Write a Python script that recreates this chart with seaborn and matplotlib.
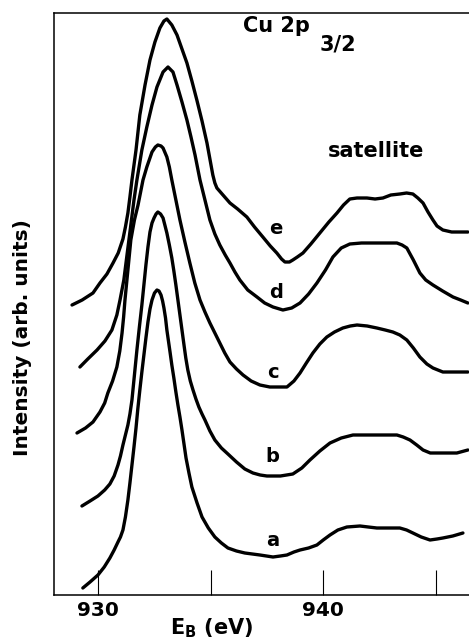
import seaborn as sns
import pandas as pd
import numpy as np
import matplotlib.pyplot as plt

# binding energy (eV) and intensity (arb. units)
energy_e = [928.85, 929.30, 929.78, 930.09, 930.40, 930.67, 930.90, 931.11, 931.22, 931.33,
            931.42, 931.51, 931.69, 931.86, 932.09, 932.31, 932.53, 932.75, 932.93, 933.06,
            933.28, 933.51, 933.73, 933.95, 934.17, 934.39, 934.62, 934.84, 934.97, 935.10,
            935.19, 935.28, 935.55, 935.86, 936.20, 936.61, 936.95, 937.32, 937.65, 937.94,
            938.15, 938.30, 938.50, 938.65, 938.85, 939.10, 939.45, 939.85, 940.25, 940.61,
            940.90, 941.18, 941.50, 941.94, 942.30, 942.65, 943.00, 943.40, 943.70, 943.98,
            944.20, 944.43, 944.65, 944.87, 945.05, 945.31, 945.70, 946.42]
inten_e = [290, 295, 302, 312, 321, 332, 342, 356, 368, 382,
           398, 415, 445, 480, 510, 535, 553, 567, 574, 576,
           570, 560, 546, 532, 514, 495, 474, 452, 436, 420,
           412, 407, 400, 392, 386, 378, 368, 358, 349, 342,
           336, 333, 333, 335, 338, 342, 351, 362, 373, 382,
           390, 396, 397, 397, 396, 397, 400, 401, 402, 401,
           397, 392, 383, 375, 369, 365, 363, 363]

energy_d = [929.20, 929.55, 929.96, 930.31, 930.62, 930.84, 930.98, 931.15, 931.29, 931.46,
            931.60, 931.73, 931.95, 932.17, 932.40, 932.62, 932.89, 933.11, 933.33, 933.51,
            933.73, 933.95, 934.13, 934.31, 934.53, 934.75, 934.97, 935.19, 935.41, 935.65,
            935.86, 936.08, 936.30, 936.65, 937.06, 937.40, 937.77, 938.21, 938.60, 938.97,
            939.35, 939.72, 940.10, 940.43, 940.80, 941.18, 941.70, 942.21, 942.75, 943.27,
            943.50, 943.71, 944.00, 944.29, 944.55, 944.87, 945.30, 945.76, 946.10, 946.42]
inten_d = [228, 236, 245, 254, 265, 280, 295, 315, 340, 370,
           395, 415, 445, 468, 490, 508, 523, 528, 523, 510,
           493, 475, 458, 440, 415, 395, 375, 361, 350, 340,
           332, 323, 315, 305, 298, 292, 288, 285, 287, 292,
           301, 312, 325, 338, 347, 351, 352, 352, 352, 352,
           350, 347, 335, 322, 315, 310, 304, 298, 295, 292]

energy_c = [929.07, 929.45, 929.78, 930.09, 930.30, 930.44, 930.65, 930.84, 930.97, 931.07,
            931.14, 931.20, 931.33, 931.46, 931.62, 931.78, 932.00, 932.17, 932.40, 932.55,
            932.66, 932.80, 932.89, 933.06, 933.17, 933.28, 933.46, 933.64, 933.86, 934.08,
            934.30, 934.53, 934.75, 934.97, 935.19, 935.41, 935.63, 935.86, 936.15, 936.44,
            936.80, 937.19, 937.63, 938.00, 938.39, 938.70, 938.97, 939.25, 939.54, 939.85,
            940.16, 940.50, 940.87, 941.20, 941.50, 941.95, 942.38, 942.75, 943.09, 943.40,
            943.71, 944.00, 944.29, 944.60, 944.87, 945.31, 945.80, 946.42]
inten_c = [162, 167, 173, 183, 192, 202, 214, 228, 244, 262,
           278, 295, 325, 355, 375, 390, 415, 428, 443, 448,
           450, 449, 447, 438, 428, 415, 395, 375, 353, 332,
           312, 295, 283, 272, 262, 252, 242, 233, 226, 220,
           214, 210, 208, 208, 208, 214, 222, 232, 242, 251,
           258, 263, 267, 269, 270, 269, 267, 265, 263, 260,
           255, 247, 238, 231, 227, 223, 223, 223]

energy_b = [929.29, 929.65, 930.00, 930.30, 930.53, 930.72, 930.89, 931.00, 931.11, 931.22,
            931.33, 931.42, 931.51, 931.62, 931.73, 931.84, 931.95, 932.04, 932.13, 932.22,
            932.31, 932.40, 932.49, 932.58, 932.66, 932.78, 932.89, 932.97, 933.06, 933.17,
            933.28, 933.37, 933.46, 933.55, 933.64, 933.73, 933.82, 933.90, 933.99, 934.10,
            934.22, 934.35, 934.48, 934.62, 934.75, 934.97, 935.19, 935.48, 935.77, 936.15,
            936.52, 936.88, 937.20, 937.50, 938.10, 938.65, 939.05, 939.41, 939.85, 940.30,
            940.80, 941.32, 942.21, 943.27, 943.55, 943.85, 944.15, 944.43, 944.75, 945.05,
            945.93, 946.42]
inten_b = [89, 94, 99, 105, 111, 119, 130, 139, 150, 160,
           170, 181, 195, 220, 245, 268, 290, 310, 330, 348,
           363, 372, 377, 381, 383, 381, 377, 370, 362, 350,
           337, 324, 310, 295, 280, 265, 250, 237, 225, 214,
           205, 196, 188, 181, 175, 164, 155, 147, 141, 133,
           126, 122, 120, 119, 119, 121, 127, 135, 144, 152,
           157, 160, 160, 160, 158, 155, 150, 145, 142, 142,
           142, 145]

energy_a = [929.33, 929.65, 930.00, 930.28, 930.53, 930.72, 930.89, 931.00, 931.11, 931.22,
            931.33, 931.42, 931.51, 931.60, 931.69, 931.77, 931.86, 931.95, 932.04, 932.13,
            932.22, 932.31, 932.40, 932.51, 932.62, 932.71, 932.80, 932.87, 932.93, 933.00,
            933.06, 933.13, 933.20, 933.28, 933.37, 933.46, 933.55, 933.64, 933.73, 933.82,
            933.91, 934.04, 934.17, 934.40, 934.62, 934.90, 935.19, 935.48, 935.77, 936.15,
            936.52, 937.19, 937.77, 938.10, 938.39, 938.70, 938.97, 939.35, 939.72, 940.00,
            940.30, 940.65, 941.05, 941.63, 942.00, 942.38, 943.40, 943.70, 943.98, 944.35,
            944.74, 945.05, 945.31, 945.75, 946.20]
inten_a = [7, 13, 20, 28, 37, 45, 53, 58, 65, 78,
           95, 112, 130, 148, 167, 186, 205, 223, 240, 257,
           273, 286, 295, 302, 305, 304, 300, 294, 287, 277,
           265, 254, 243, 230, 217, 203, 190, 178, 165, 151,
           137, 122, 108, 92, 78, 67, 58, 52, 47, 44,
           42, 40, 38, 39, 40, 43, 45, 47, 50, 55,
           60, 65, 68, 69, 68, 67, 67, 65, 62, 58,
           55, 56, 57, 59, 62]

curve_names = ['a', 'b', 'c', 'd', 'e']
curve_label_pos = [(937.75, 55), (937.75, 138), (937.75, 222), (937.9, 302), (937.9, 367)]

frames = []
for name, x, y in zip(curve_names,
                      [energy_a, energy_b, energy_c, energy_d, energy_e],
                      [inten_a, inten_b, inten_c, inten_d, inten_e]):
    frames.append(pd.DataFrame({'energy': x, 'intensity': y, 'curve': name}))
df = pd.concat(frames, ignore_index=True)

sns.set_style('ticks')
plt.rcParams['font.family'] = ['DejaVu Sans']
plt.rcParams['mathtext.fontset'] = 'dejavusans'
plt.rcParams['text.color'] = 'black'
plt.rcParams['axes.labelcolor'] = 'black'
plt.rcParams['xtick.color'] = 'black'

fig = plt.figure(figsize=(4.69, 6.41), dpi=100)
ax = fig.add_axes([54 / 469, 1 - 595 / 641, 1 - 54 / 469, (595 - 13) / 641])

sns.lineplot(data=df, x='energy', y='intensity', hue='curve', units='curve',
             estimator=None, sort=False, palette=['black'] * 5, legend=False,
             linewidth=2.4, ax=ax)
for line in ax.lines:
    line.set_solid_joinstyle('round')
    line.set_solid_capstyle('round')

ax.set_xlim(928.05, 946.47)
ax.set_ylim(0, 582)

ax.set_xticks([930, 935, 940, 945])
ax.set_xticklabels(['930', '', '940', ''], fontsize=14.5, fontweight='bold')
ax.tick_params(axis='x', direction='in', length=18, width=0.8, pad=4,
               bottom=True, top=False)
ax.set_yticks([])

for side in ['left', 'bottom', 'top']:
    ax.spines[side].set_visible(True)
    ax.spines[side].set_color('black')
    ax.spines[side].set_linewidth(1.1)
ax.spines['right'].set_visible(False)

ax.set_xlabel(r'$\mathbf{E_B}$ (eV)', fontsize=15, fontweight='bold')
ax.xaxis.set_label_coords(0.3795, -0.036)
ax.set_ylabel('Intensity (arb. units)', fontsize=14.5, fontweight='bold')
ax.yaxis.label.set_va('center')
ax.yaxis.set_label_coords(-0.077, 0.443)

ax.text(936.44, 563, 'Cu 2p', fontsize=15, fontweight='bold', ha='left', va='baseline')
ax.text(939.85, 545, '3/2', fontsize=15, fontweight='bold', ha='left', va='baseline')
ax.text(940.21, 438, 'satellite', fontsize=15, fontweight='bold', ha='left', va='baseline')

for name, (x, y) in zip(curve_names, curve_label_pos):
    ax.text(x, y, name, fontsize=14, fontweight='bold', ha='center', va='center')

fig.savefig('out.png', dpi=100)
